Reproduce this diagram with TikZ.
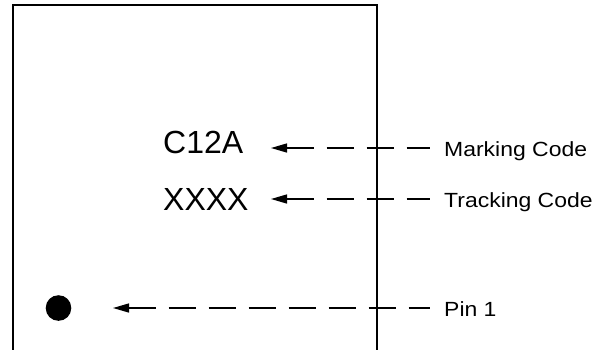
\documentclass[tikz,border=0pt]{standalone}
\usepackage{fontspec}
\setmainfont{Liberation Sans}
\newfontfamily\lblfont[FakeStretch=1.12]{Liberation Sans}
\usetikzlibrary{arrows.meta}
\tikzset{
  pkg/.style={draw=black, line width=2.4pt},
  codetext/.style={inner sep=0pt, anchor=base west, font=\fontsize{32}{38}\selectfont},
  lbltext/.style={inner sep=0pt, anchor=base west, font=\lblfont\fontsize{20.5}{24}\selectfont},
  dashline/.style={draw=black, line width=1.4pt, dash pattern=on 27pt off 13pt,
    {Triangle[length=16pt,width=9pt]}-},
}
\begin{document}
\begin{tikzpicture}[x=1pt,y=-1pt]
\useasboundingbox (0,0) rectangle (605,349);
\begin{scope}
\clip (0,0) rectangle (605,349);
\draw[pkg] (13,5) rectangle (377,370);
\end{scope}
\node[codetext] (c12a) at (163,153) {C12A};
\node[codetext] (xxxx) at (163,210) {XXXX};
\fill[black] (58.5,308) circle[radius=12.8pt];
\coordinate (dot) at (58.5,308);
\node[lbltext] (mark) at (444,156) {Marking Code};
\node[lbltext] (track) at (444,207) {Tracking Code};
\node[lbltext] (pin) at (444,316) {Pin 1};
\coordinate (mtip) at (271,148);
\coordinate (ttip) at (271,199);
\coordinate (ptip) at (113,308);
\draw[dashline] (mtip) -- ([xshift=-14pt,yshift=8pt]mark.base west);
\draw[dashline] (ttip) -- ([xshift=-14pt,yshift=8pt]track.base west);
\draw[dashline] (ptip) -- ([xshift=-14pt,yshift=8pt]pin.base west);
\end{tikzpicture}
\end{document}
